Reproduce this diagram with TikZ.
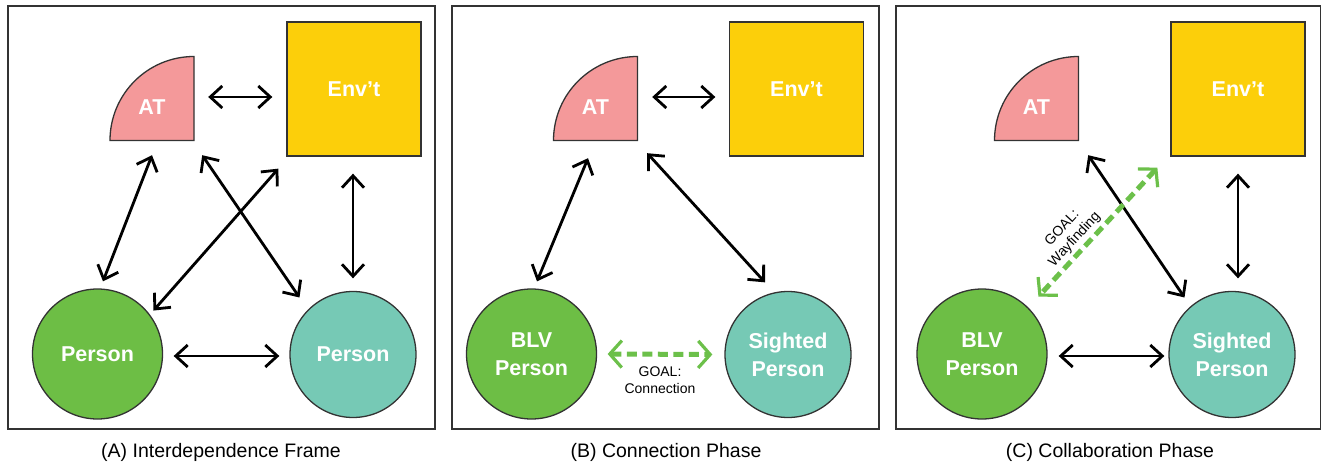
\documentclass[tikz,border=0pt]{standalone}
\usepackage{fontspec}
\setmainfont{Liberation Sans}
\usetikzlibrary{arrows.meta}

\definecolor{atpink}{HTML}{F4999A}
\definecolor{envyellow}{HTML}{FCCF0A}
\definecolor{blvgreen}{HTML}{6DBE45}
\definecolor{sigteal}{HTML}{76C9B5}
\definecolor{goalgreen}{HTML}{6CC04A}
\definecolor{outline}{HTML}{333333}

\begin{document}
\begin{tikzpicture}[x=1pt, y=-1pt, >={Straight Barb[length=12pt,width=22pt]}]
\tikzstyle{lbl}=[text=white, font=\bfseries\fontsize{21.5}{28}\selectfont, align=center]
\tikzstyle{atq}=[lbl, minimum size=88pt, inner sep=0pt, text height=32pt, text depth=0pt,
  path picture={\filldraw[draw=outline, fill=atpink, line width=1.3pt]
    ([shift={(2pt,2pt)}]path picture bounding box.south west)
    arc[start angle=180, end angle=90, radius=84pt]
    -- ([shift={(-2pt,2pt)}]path picture bounding box.south east) -- cycle;}]
\tikzstyle{env}=[lbl, rectangle, draw=outline, fill=envyellow, line width=1.3pt, minimum size=134pt]
\tikzstyle{blv}=[lbl, circle, draw=outline, fill=blvgreen, line width=1.3pt, minimum size=130pt, inner sep=0pt]
\tikzstyle{sig}=[blv, fill=sigteal, minimum size=126pt]
\tikzstyle{biarr}=[<->, draw=black, line width=2.8pt]
\tikzstyle{goal}=[<->, >={Straight Barb[length=12pt,width=27pt,line width=3.2pt]}, draw=goalgreen, line width=5pt, dash pattern=on 10pt off 5.5pt]
\tikzstyle{goaltxt}=[text=black, font=\fontsize{14}{17}\selectfont, align=center, inner sep=1pt]
\tikzstyle{captxt}=[font=\fontsize{19.5}{23}\selectfont]
\tikzstyle{frm}=[draw=outline, line width=1.5pt]

\useasboundingbox (0,0) rectangle (1322,465);

% panel frames
\draw[frm] (8,6) rectangle (435,429);
\draw[frm] (452,6) rectangle (879,429);
\draw[frm] (896,6) rectangle (1320.5,429);

% (A) interdependence frame
\node[atq] (ATa) at (152,98.5)  {AT};
\node[env] (ENa) at (354,89)    {Env’t};
\node[blv] (Pa1) at (97.5,354)  {Person};
\node[sig] (Pa2) at (353,354.5) {Person};
\node[captxt] (capA) at (221,452) {(A) Interdependence Frame};
\path
([shift={(12,-1.5)}]ATa.east)        edge[biarr] ([shift={(-14,8)}]ENa.west)
([shift={(0,12.5)}]ATa.south)        edge[biarr] ([shift={(5.5,-7)}]Pa1.north)
([shift={(6,12.5)}]ATa.south east)   edge[biarr] ([shift={(-8.5,-12)}]Pa2.north west)
([shift={(-8,12)}]ENa.south west)    edge[biarr] ([shift={(9.5,3)}]Pa1.north east)
([shift={(-1,17)}]ENa.south)         edge[biarr] ([shift={(0,-12.5)}]Pa2.north)
([shift={(10.5,2)}]Pa1.east)         edge[biarr] ([shift={(-10,1.5)}]Pa2.west);

% (B) connection phase
\node[atq] (ATb) at (595.5,98.5) {AT};
\node[env] (ENb) at (796.5,89)   {Env’t};
\node[blv] (Pb1) at (531.5,354)  {BLV\\Person};
\node[sig] (Pb2) at (788,354.5)  {Sighted\\Person};
\node[captxt] (capB) at (666,452) {(B) Connection Phase};
\path
([shift={(12.5,-1.5)}]ATb.east)      edge[biarr] ([shift={(-13.5,8)}]ENb.west)
([shift={(-7.5,15.5)}]ATb.south)     edge[biarr] ([shift={(5.5,-7)}]Pb1.north)
([shift={(7.5,10.5)}]ATb.south east) edge[biarr] ([shift={(-23,-8.5)}]Pb2.north)
([shift={(10.5,0)}]Pb1.east)         edge[goal] node[goaltxt, below=9pt] {GOAL:\\Connection} ([shift={(-12,0)}]Pb2.west);

% (C) collaboration phase
\node[atq] (ATc) at (1036.5,98.5) {AT};
\node[env] (ENc) at (1238,89)     {Env’t};
\node[blv] (Pc1) at (982,354)     {BLV\\Person};
\node[sig] (Pc2) at (1232,354.5)  {Sighted\\Person};
\node[captxt] (capC) at (1110,452) {(C) Collaboration Phase};
\path
([shift={(7.5,12.5)}]ATc.south east) edge[biarr] ([shift={(-2.5,-12)}]Pc2.north west)
([shift={(0,17)}]ENc.south)          edge[biarr] ([shift={(6,-12.5)}]Pc2.north)
([shift={(11,2)}]Pc1.east)           edge[biarr] ([shift={(-4,1.5)}]Pc2.west)
([shift={(-13,11)}]ENc.south west)   edge[goal] node[goaltxt, sloped, above=2pt, pos=0.62] {GOAL:\\Wayfinding} ([shift={(10,-11)}]Pc1.north east);
\end{tikzpicture}
\end{document}
